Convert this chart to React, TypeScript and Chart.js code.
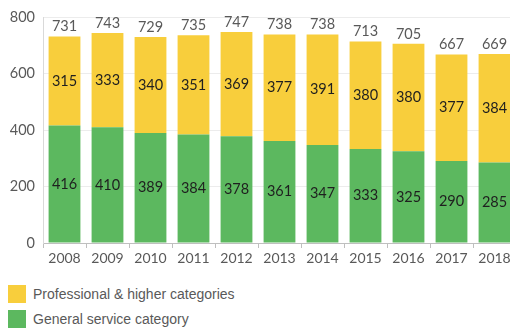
import React, { useEffect, useRef } from "react";
import { Chart, registerables } from "chart.js";

Chart.register(...registerables);

const years = ["2008", "2009", "2010", "2011", "2012", "2013", "2014", "2015", "2016", "2017", "2018"];
const generalService = [416, 410, 389, 384, 378, 361, 347, 333, 325, 290, 285];
const professional = [315, 333, 340, 351, 369, 377, 391, 380, 380, 377, 384];
const totals = [731, 743, 729, 735, 747, 738, 738, 713, 705, 667, 669];
const seriesNames = ["Professional & higher categories", "General service category"];
const yTicks = [0, 200, 400, 600, 800];

const YELLOW = "#F8CE3C";
const GREEN = "#5CB85F";

const labelPlugin = {
  id: "barLabels",
  afterDatasetsDraw(chart: any) {
    const ctx = chart.ctx;
    ctx.save();
    ctx.textAlign = "center";
    ctx.textBaseline = "middle";
    ctx.font = "14.5px Lato";
    chart.data.datasets.forEach((ds: any, di: number) => {
      const meta = chart.getDatasetMeta(di);
      meta.data.forEach((bar: any, i: number) => {
        const y = (bar.y + bar.base) / 2;
        ctx.fillStyle = "#1F1F1F";
        ctx.fillText(String(ds.data[i]), bar.x, y);
      });
    });
    const topMeta = chart.getDatasetMeta(1);
    topMeta.data.forEach((bar: any, i: number) => {
      ctx.fillStyle = "#595959";
      ctx.fillText(String(totals[i]), bar.x, bar.y - 10);
    });
    ctx.restore();
  },
};

export default function App() {
  const ref = useRef<HTMLCanvasElement>(null);
  useEffect(() => {
    if (!ref.current) return;
    const chart = new Chart(ref.current, {
      type: "bar",
      data: {
        labels: years,
        datasets: [
          { label: seriesNames[1], data: generalService, backgroundColor: GREEN, barPercentage: 0.74, categoryPercentage: 1 },
          { label: seriesNames[0], data: professional, backgroundColor: YELLOW, barPercentage: 0.74, categoryPercentage: 1 },
        ],
      },
      options: {
        animation: false,
        responsive: false,
        maintainAspectRatio: false,
        layout: { padding: { top: 17, right: 4, left: 0, bottom: 0 } },
        plugins: { legend: { display: false }, tooltip: { enabled: false } },
        scales: {
          x: {
            stacked: true,
            grid: { offset: true, drawOnChartArea: false, tickLength: 5, color: "#BFBFBF" },
            border: { color: "#BFBFBF" },
            ticks: { color: "#595959", font: { family: "Lato", size: 14 }, padding: 2, maxRotation: 0 },
            afterFit: (s: any) => { s.height = 27; },
          },
          y: {
            stacked: true,
            min: 0,
            max: 800,
            afterBuildTicks: (s: any) => { s.ticks = yTicks.map((v) => ({ value: v })); },
            grid: { color: "#ECECEC", drawTicks: false },
            border: { color: "#D9D9D9" },
            ticks: { color: "#595959", font: { family: "Lato", size: 14.5 }, padding: 8 },
            afterFit: (s: any) => { s.width = 43; },
          },
        },
      },
      plugins: [labelPlugin],
    });
    return () => chart.destroy();
  }, []);

  const legendItem = (color: string, text: string, top: number) => (
    <div style={{ position: "absolute", left: 8, top, height: 18, display: "flex", alignItems: "center" }}>
      <div style={{ width: 18, height: 18, background: color }} />
      <span style={{ marginLeft: 7, fontFamily: "'Liberation Sans', Arial, sans-serif", fontSize: 14, color: "#595959", lineHeight: "18px" }}>{text}</span>
    </div>
  );

  return (
    <div style={{ position: "fixed", left: 0, top: 0, width: 510, height: 331, overflow: "hidden", background: "#fff" }}>
      <canvas ref={ref} width={520} height={270} style={{ position: "absolute", left: 0, top: 0, width: 520, height: 270 }} />
      {legendItem(YELLOW, seriesNames[0], 285)}
      {legendItem(GREEN, seriesNames[1], 310)}
    </div>
  );
}
